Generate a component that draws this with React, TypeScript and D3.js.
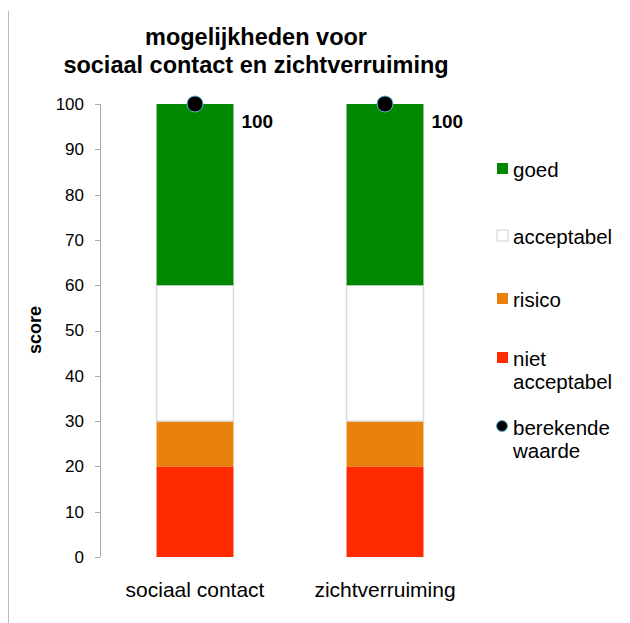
import React from "react";
import * as d3 from "d3";

const categories = ["sociaal contact", "zichtverruiming"];
const calculatedValues = [100, 100];
const segmentNames = ["niet acceptabel", "risico", "acceptabel", "goed"];
const segmentSizes = [20, 10, 30, 40];
const segmentColors = ["#ff2a00", "#e8820a", "#ffffff", "#008800"];
const yTicks = [0, 10, 20, 30, 40, 50, 60, 70, 80, 90, 100];
const legendItems = [
  { lines: ["goed"], color: "#008800", kind: "rect" },
  { lines: ["acceptabel"], color: "#ffffff", kind: "rect" },
  { lines: ["risico"], color: "#e8820a", kind: "rect" },
  { lines: ["niet", "acceptabel"], color: "#ff2a00", kind: "rect" },
  { lines: ["berekende", "waarde"], color: "#000000", kind: "dot" },
];
const titleLines = ["mogelijkheden voor", "sociaal contact en zichtverruiming"];

const FONT = "Liberation Sans, Arial, Helvetica, sans-serif";

export default function App() {
  const W = 630, H = 623;
  const y = d3.scaleLinear().domain([0, 100]).range([557, 104]);
  const x = d3.scaleBand<string>().domain(categories).range([100, 480]).paddingInner(0.595).paddingOuter(0.2975);

  const stacks = segmentSizes.map((s, i) => {
    const start = d3.sum(segmentSizes.slice(0, i));
    return { name: segmentNames[i], y0: start, y1: start + s, color: segmentColors[i] };
  });

  const legendY = [170, 237, 300, 359, 428];

  return (
    <div style={{ position: "absolute", left: 0, top: 0 }}>
      <svg width={W} height={H} style={{ display: "block", fontFamily: FONT }}>
        <rect width={W} height={H} fill="#fff" />
        <line x1={8.5} x2={8.5} y1={11} y2={H} stroke="#bbb" strokeWidth={1} />
        {/* title */}
        {titleLines.map((t, i) => (
          <text key={i} x={256} y={45 + i * 28} textAnchor="middle" fontSize={23.5} fontWeight="bold" fill="#000">{t}</text>
        ))}
        {/* y axis */}
        <line x1={100.5} x2={100.5} y1={y(100)} y2={y(0)} stroke="#aaa" strokeWidth={1} />
        {yTicks.map((t) => (
          <g key={t}>
            <line x1={95} x2={100} y1={Math.round(y(t)) + 0.5} y2={Math.round(y(t)) + 0.5} stroke="#aaa" />
            <text x={84} y={y(t)} dy="0.35em" textAnchor="end" fontSize={17} fill="#000">{t}</text>
          </g>
        ))}
        <text transform={`translate(41,330) rotate(-90)`} textAnchor="middle" fontSize={18} fontWeight="bold" fill="#000">score</text>
        {/* bars */}
        {categories.map((c, ci) => (
          <g key={c}>
            {stacks.map((s) => (
              <rect key={s.name} x={x(c)} y={y(s.y1)} width={x.bandwidth()} height={y(s.y0) - y(s.y1)} fill={s.color}
                stroke={s.color === "#ffffff" ? "#d9d9d9" : "none"} strokeWidth={1.5} />
            ))}
            <circle cx={(x(c) as number) + x.bandwidth() / 2} cy={y(calculatedValues[ci])} r={8} fill="#000" stroke="#5ab4d8" strokeWidth={1} />
            <text x={(x(c) as number) + x.bandwidth() + 8} y={y(calculatedValues[ci]) + 24} fontSize={19} fontWeight="bold" fill="#000">{calculatedValues[ci]}</text>
            <text x={(x(c) as number) + x.bandwidth() / 2} y={597} textAnchor="middle" fontSize={21} fill="#000">{c}</text>
          </g>
        ))}
        {/* legend */}
        {legendItems.map((l, i) => (
          <g key={i}>
            {l.kind === "rect" ? (
              <rect x={497} y={legendY[i] - 7} width={11} height={11} fill={l.color} stroke={l.color === "#ffffff" ? "#d0d0d0" : "none"} />
            ) : (
              <circle cx={502} cy={legendY[i] - 2} r={5.5} fill="#000" stroke="#5ab4d8" strokeWidth={1} />
            )}
            {l.lines.map((t, j) => (
              <text key={j} x={513} y={legendY[i] + 7 + j * 23} fontSize={20.5} fill="#000">{t}</text>
            ))}
          </g>
        ))}
      </svg>
    </div>
  );
}
